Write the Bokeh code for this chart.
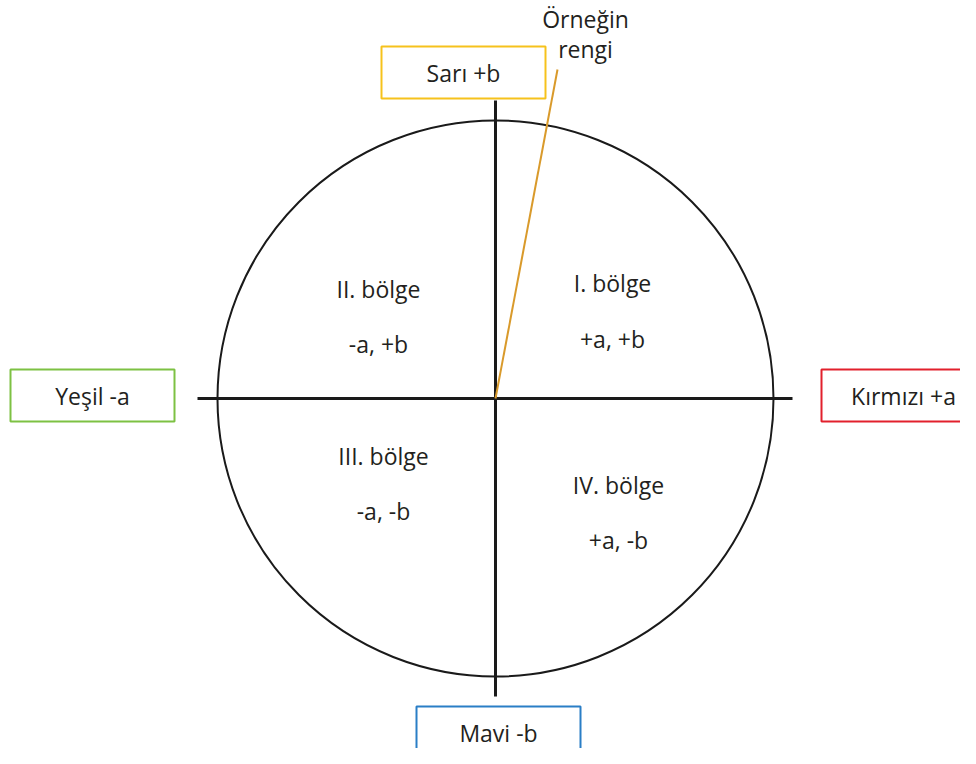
from bokeh.plotting import figure
from bokeh.models import Range1d, ColumnDataSource
from bokeh.core.properties import value
from bokeh.embed import file_html
from bokeh.resources import INLINE

# --- diagram data (a/b colour plane, centre at 0,0) ---
radius = 278
axis_half = 298

box_labels = ["Sarı +b", "Yeşil -a", "Kırmızı +a", "Mavi -b"]
box_x = [-32, -403, 408, 3]
box_y = [326, 3, 3, -334]
box_colors = ["#F6C21C", "#7DC143", "#E2202C", "#2A7EC6"]
box_w = 164
box_h = 52

quad_names = ["I. bölge", "II. bölge", "III. bölge", "IV. bölge"]
quad_signs = ["+a, +b", "-a, +b", "-a, -b", "+a, -b"]
quad_x = [117, -117, -112, 123]
quad_name_y = [116, 110, -57, -86]
quad_sign_y = [60, 55, -112, -141]

sample_label = ["Örneğin", "rengi"]
sample_label_x = [90, 90]
sample_label_y = [380, 350]
sample_a = 62
sample_b = 329

FONT = value("Open Sans")
TXT = "#231f20"
FS = "23px"

p = figure(width=960, height=748, output_backend="svg", toolbar_location=None,
           x_range=Range1d(-495, 465), y_range=Range1d(-350, 398),
           min_border=0, background_fill_color="white", border_fill_color="white")
p.axis.visible = False
p.grid.visible = False
p.outline_line_color = None

# circle
p.circle(x=[0], y=[0], radius=radius, fill_color=None, line_color="#1a1a1a", line_width=2)

# axes
p.segment(x0=[-axis_half, 0], y0=[0, -axis_half], x1=[axis_half - 1, 0], y1=[0, axis_half],
          line_color="#1a1a1a", line_width=3)

# sample colour vector
p.segment(x0=[0], y0=[0], x1=[sample_a], y1=[sample_b], line_color="#D99A2B", line_width=2)

# boxes
bsrc = ColumnDataSource(dict(x=box_x, y=box_y, c=box_colors, t=box_labels))
p.rect(x="x", y="y", width=box_w, height=box_h, source=bsrc, fill_color="white",
       line_color="c", line_width=2)
p.text(x="x", y="y", text="t", source=bsrc, text_align="center", text_baseline="middle",
       text_font=FONT, text_font_size=FS, text_color=TXT)

# quadrant labels
p.text(x=quad_x, y=quad_name_y, text=quad_names, text_align="center", text_baseline="middle",
       text_font=FONT, text_font_size=FS, text_color=TXT)
p.text(x=quad_x, y=quad_sign_y, text=quad_signs, text_align="center", text_baseline="middle",
       text_font=FONT, text_font_size=FS, text_color=TXT)

# sample label
p.text(x=sample_label_x, y=sample_label_y, text=sample_label, text_align="center",
       text_baseline="middle", text_font=FONT, text_font_size=FS, text_color=TXT)

open("out.html", "w").write(file_html(p, INLINE))
